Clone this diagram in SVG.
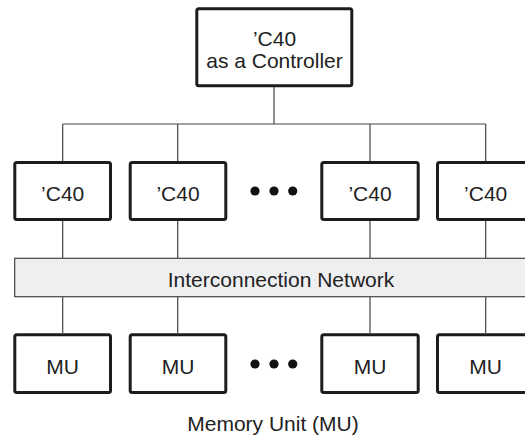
<svg xmlns="http://www.w3.org/2000/svg" width="525" height="436" viewBox="0 0 525 436">
<style>
.box{fill:#ffffff;stroke:#1c1c1c;stroke-width:3;}
.bar{fill:#eeeff1;stroke:#444444;stroke-width:1.2;}
.ln{stroke:#444444;stroke-width:1.2;fill:none;}
.t{font-family:"Liberation Sans",Arial,sans-serif;font-size:21px;fill:#222222;text-anchor:middle;}
.dot{fill:#111111;}
</style>
<rect width="525" height="436" fill="#ffffff"/>
<g id="connectors">
<path class="ln" d="M274,87 V124 M62.7,124 H485.7 M62.7,124 V161 M177.7,124 V161 M370,124 V161 M485.7,124 V161 M62.7,221 V258 M177.7,221 V258 M370,221 V258 M485.7,221 V258 M62.7,297 V333 M177.7,297 V333 M370,297 V333 M485.7,297 V333"/>
</g>
<g id="controller">
<rect class="box" x="196.8" y="8.8" width="155" height="77" rx="2"/>
<text class="t" x="274.5" y="45.7">’C40</text>
<text class="t" x="274.5" y="68.3">as a Controller</text>
</g>
<g id="c40-1"><rect class="box" x="14.8" y="162.5" width="95.7" height="57" rx="2"/><text class="t" x="62.7" y="201">’C40</text></g>
<g id="c40-2"><rect class="box" x="130.2" y="162.5" width="95.6" height="57" rx="2"/><text class="t" x="178" y="201">’C40</text></g>
<g id="c40-3"><rect class="box" x="321.8" y="162.5" width="96.4" height="57" rx="2"/><text class="t" x="370" y="201">’C40</text></g>
<g id="c40-4"><rect class="box" x="437.5" y="162.5" width="96.4" height="57" rx="2"/><text class="t" x="485.7" y="201">’C40</text></g>
<g id="dots-top"><circle class="dot" cx="255" cy="191" r="4.6"/><circle class="dot" cx="274" cy="191" r="4.6"/><circle class="dot" cx="292.7" cy="191" r="4.6"/></g>
<g id="network">
<rect class="bar" x="14.7" y="258.3" width="530" height="38.4"/>
<text class="t" x="281" y="286.5">Interconnection Network</text>
</g>
<g id="mu-1"><rect class="box" x="14.8" y="334.8" width="95.7" height="57.7" rx="2"/><text class="t" x="62.7" y="374">MU</text></g>
<g id="mu-2"><rect class="box" x="130.2" y="334.8" width="95.6" height="57.7" rx="2"/><text class="t" x="178" y="374">MU</text></g>
<g id="mu-3"><rect class="box" x="321.8" y="334.8" width="96.4" height="57.7" rx="2"/><text class="t" x="370" y="374">MU</text></g>
<g id="mu-4"><rect class="box" x="437.5" y="334.8" width="96.4" height="57.7" rx="2"/><text class="t" x="485.7" y="374">MU</text></g>
<g id="dots-bottom"><circle class="dot" cx="255" cy="364" r="4.6"/><circle class="dot" cx="274" cy="364" r="4.6"/><circle class="dot" cx="292.7" cy="364" r="4.6"/></g>
<g id="caption"><text class="t" x="273" y="431">Memory Unit (MU)</text></g>
</svg>
